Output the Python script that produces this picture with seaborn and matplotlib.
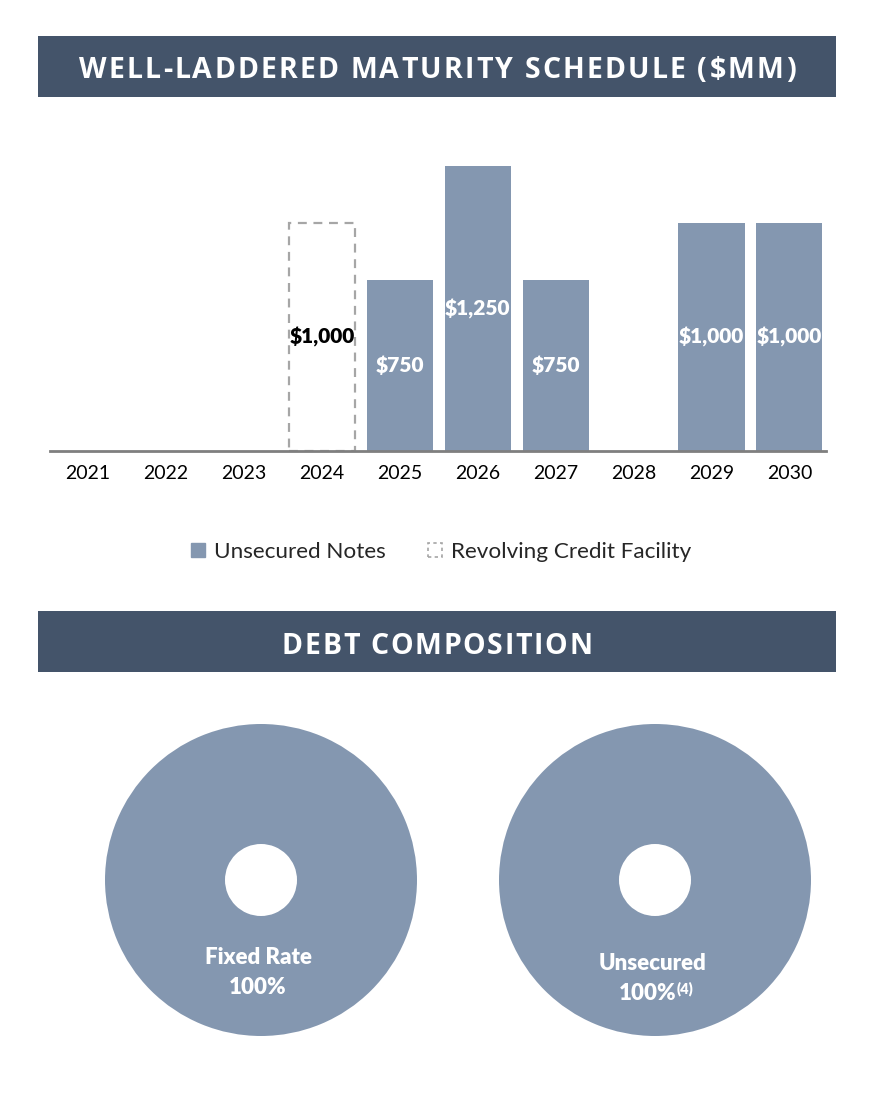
import matplotlib
matplotlib.use("Agg")
import matplotlib.pyplot as plt
import seaborn as sns
import pandas as pd
from matplotlib.patches import Patch
from matplotlib.font_manager import FontProperties

# ---------------- data ----------------
years = ["2021", "2022", "2023", "2024", "2025", "2026", "2027", "2028", "2029", "2030"]
unsecured_notes = [0, 0, 0, 0, 750, 1250, 750, 0, 1000, 1000]
revolving_credit = [0, 0, 0, 1000, 0, 0, 0, 0, 0, 0]
series_names = ["Unsecured Notes", "Revolving Credit Facility"]
title_top = "WELL-LADDERED MATURITY SCHEDULE ($MM)"
title_bottom = "DEBT COMPOSITION"
pie_labels = ["Fixed Rate", "Unsecured"]
pie_values = [100, 100]
pie_notes = ["", "(4)"]

# ---------------- style ----------------
sns.set_theme(style="white")
BODY = "Lato"
plt.rcParams['font.family'] = [BODY, 'DejaVu Sans']
HEADER_BG = "#44546A"
BAR_C = "#8497B0"
DASH_C = "#A6A6A6"

W, H = 871, 1103
fig = plt.figure(figsize=(W / 100, H / 100), dpi=100)
renderer = fig.canvas.get_renderer()


def fx(px):
    return px / W


def fy(py):
    return 1 - py / H


def header(y0, y1, text, width_px, size):
    ax = fig.add_axes([fx(38), fy(y1), fx(836 - 38), (y1 - y0) / H])
    ax.set_facecolor(HEADER_BG)
    ax.set_xticks([]); ax.set_yticks([])
    for s in ax.spines.values():
        s.set_visible(False)
    fp = FontProperties(family="Open Sans", weight="bold", size=size)
    widths = [renderer.get_text_width_height_descent(c, fp, ismath=False)[0] for c in text]
    track = (width_px - sum(widths)) / (len(text) - 1)
    x = 437 - width_px / 2
    yc = (y0 + y1) / 2 + 1
    for c, w in zip(text, widths):
        fig.text(fx(x), fy(yc), c, fontproperties=fp, color="white", ha="left", va="center_baseline")
        x += w + track


header(36, 97, title_top, 717, 20.5)
header(611, 672, title_bottom, 310, 20.5)

# ---------------- bar chart ----------------
df = pd.DataFrame({"year": years, "notes": unsecured_notes, "rcf": revolving_credit})
ax = fig.add_axes([fx(50), fy(451), fx(826 - 50), (451 - 130) / H])
sns.barplot(data=df, x="year", y="notes", color=BAR_C, saturation=1, width=0.85,
            linewidth=0, ax=ax)
n_notes = len(ax.patches)
sns.barplot(data=df, x="year", y="rcf", color=DASH_C, saturation=1, width=0.85,
            fill=False, linewidth=1.6, ax=ax)
for p in ax.patches[n_notes:]:
    p.set_linestyle((0, (4, 3)))
    p.set_edgecolor(DASH_C)
    p.set_facecolor("none")
    if p.get_height() == 0:
        p.set_visible(False)

for i, (n, r) in enumerate(zip(unsecured_notes, revolving_credit)):
    if n > 0:
        ax.text(i, n / 2, f"${n:,}", ha="center", va="center", color="white",
                fontsize=15, fontweight="heavy")
    if r > 0:
        ax.text(i, r / 2, f"${r:,}", ha="center", va="center", color="black",
                fontsize=15, fontweight="heavy")

ax.set_xlim(-0.49, 9.47)
ax.set_ylim(0, 1408)
ax.set_xlabel(""); ax.set_ylabel("")
ax.set_yticks([])
ax.tick_params(axis="x", length=0, pad=10, labelsize=14, colors="black")
for s in ["top", "right", "left"]:
    ax.spines[s].set_visible(False)
ax.spines["bottom"].set_color("#7F7F7F")
ax.spines["bottom"].set_linewidth(2)
ax.set_facecolor("none")

handles = [Patch(facecolor=BAR_C, edgecolor=BAR_C, label=series_names[0]),
           Patch(facecolor="none", edgecolor=DASH_C, linestyle=(0, (2, 2)), linewidth=1.2,
                 label=series_names[1])]
fig.legend(handles=handles, loc="center", bbox_to_anchor=(fx(441), fy(552)), ncol=2,
           frameon=False, fontsize=16.2, handlelength=0.6, handleheight=0.6,
           handletextpad=0.4, columnspacing=1.9)

# ---------------- donuts ----------------
R = 156
hole = 36
centers = [(261, 880), (655, 880)]
label_y = [(957, 987), (964, 994)]
for (cx, cy), lab, val, note, (ly1, ly2) in zip(centers, pie_labels, pie_values, pie_notes, label_y):
    pax = fig.add_axes([fx(cx - R), fy(cy + R), 2 * R / W, 2 * R / H])
    pax.pie([val], colors=[BAR_C], startangle=90, counterclock=False,
            wedgeprops=dict(width=1 - hole / R, linewidth=0))
    pax.set_aspect("equal")
    pax.set_xlim(-1, 1); pax.set_ylim(-1, 1)
    fig.text(fx(cx - 3), fy(ly1), lab, ha="center", va="center", color="white",
             fontsize=16, fontweight="heavy")
    if note:
        fig.text(fx(cx + 21), fy(ly2), f"{val}%", ha="right", va="center",
                 color="white", fontsize=16, fontweight="heavy")
        fig.text(fx(cx + 22), fy(ly2 - 5), note, ha="left", va="center",
                 color="white", fontsize=10.5, fontweight="heavy")
    else:
        fig.text(fx(cx - 3), fy(ly2), f"{val}%", ha="center", va="center", color="white",
                 fontsize=16, fontweight="heavy")

fig.savefig("out.png", dpi=100, facecolor="white")
